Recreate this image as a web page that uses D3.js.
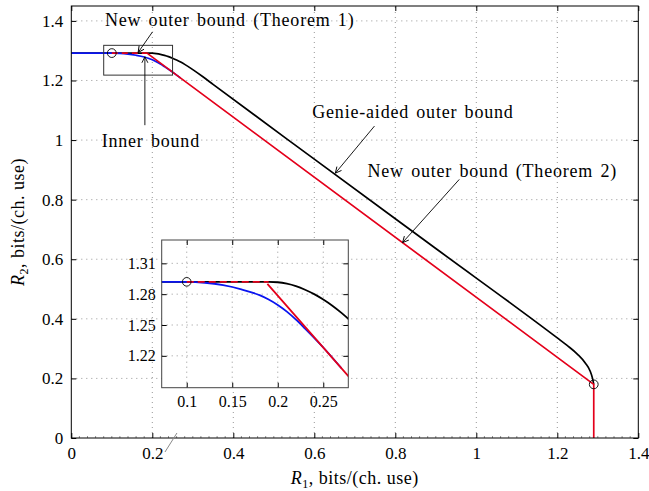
<!DOCTYPE html>
<html>
<head>
<meta charset="utf-8">
<script src="https://cdn.jsdelivr.net/npm/d3@7"></script>
<style>
  body { margin: 0; background: #fff; }
  svg text { font-family: "Liberation Serif", "DejaVu Serif", serif; fill: #000; }
</style>
</head>
<body>
<div id="chart"></div>
<script>
// ---- data ----
const xTicks = [0, 0.2, 0.4, 0.6, 0.8, 1, 1.2, 1.4];
const yTicks = [0, 0.2, 0.4, 0.6, 0.8, 1, 1.2, 1.4];
const insetXTicks = [0.1, 0.15, 0.2, 0.25];
const insetYTicks = [1.22, 1.25, 1.28, 1.31];

// genie-aided outer bound (black)
const genieBound = [
  [0, 1.292], [0.19, 1.292], [0.20, 1.2916], [0.21, 1.2902], [0.22, 1.2878],
  [0.23, 1.2843], [0.24, 1.2800], [0.25, 1.2748], [0.26, 1.2688], [0.27, 1.2618],
  [0.28, 1.2540], [0.30, 1.2365], [0.325, 1.2125], [0.35, 1.187],
  [0.6, 0.936], [0.9, 0.636], [1.2, 0.336], [1.225, 0.31], [1.25, 0.281],
  [1.269, 0.252], [1.281, 0.225], [1.287, 0.2], [1.29, 0.18]
];
// inner bound (blue) - merges with the Theorem 2 line near R1 = 0.25
const innerBound = [
  [0, 1.292], [0.1, 1.292], [0.12, 1.2911], [0.14, 1.2887], [0.16, 1.2847],
  [0.18, 1.2790], [0.19, 1.2748], [0.20, 1.2695], [0.21, 1.2630], [0.22, 1.2552],
  [0.23, 1.2465], [0.24, 1.2375], [0.25, 1.2281], [0.27, 1.2079]
];
// new outer bound, Theorem 2 (red solid) and Theorem 1 (red dashed)
const thm2Bound = [[0.1886, 1.290], [1.29, 0.18], [1.29, 0]];
const thm1Bound = [[0.1, 1.292], [0.19, 1.292]];
// corner points (circles)
const cornerPoints = [[0.1, 1.292], [1.29, 0.18]];
// zoom box drawn in main plot
const zoomBox = { x0: 0.08, x1: 0.25, y0: 1.218, y1: 1.318 };
// stray grey stroke under the axis
const strayLine = [[0.2313, -0.047], [0.2609, 0.0168]];

// annotations: text anchor and arrow (from -> to), data coordinates
const annotations = [
  { text: "New outer bound (Theorem 1)", tx: 0.083, ty: 1.3826, from: [0.2006, 1.3634], to: [0.165, 1.294] },
  { text: "Inner bound", tx: 0.075, ty: 0.9765, from: [0.1817, 1.050], to: [0.1817, 1.2795] },
  { text: "Genie-aided outer bound", tx: 0.595, ty: 1.0738, from: [0.7486, 1.047], to: [0.652, 0.889] },
  { text: "New outer bound (Theorem 2)", tx: 0.7313, ty: 0.8758, from: [0.958, 0.868], to: [0.818, 0.656] }
];

// ---- layout ----
const width = 649, height = 491;
const red = "#e4001b", blue = "#0a14f0";

const svg = d3.select("#chart").append("svg")
  .attr("width", width).attr("height", height);

const x = d3.scaleLinear([0, 1.4], [71.3, 638.3]);
const y = d3.scaleLinear([0, 1.45], [438, 6]);
const ix = d3.scaleLinear([0.0725, 0.2775], [161.7, 348.3]);
const iy = d3.scaleLinear([1.189, 1.3327], [387.7, 240]);

const defs = svg.append("defs");
defs.append("clipPath").attr("id", "clipMain").append("rect")
  .attr("x", x(0)).attr("y", y(1.45)).attr("width", x(1.4) - x(0)).attr("height", y(0) - y(1.45));
defs.append("clipPath").attr("id", "clipInset").append("rect")
  .attr("x", ix(0.0725)).attr("y", iy(1.3327)).attr("width", ix(0.2775) - ix(0.0725)).attr("height", iy(1.189) - iy(1.3327));
defs.append("marker").attr("id", "arrow")
  .attr("markerUnits", "userSpaceOnUse")
  .attr("viewBox", "-8 -5 10 10").attr("refX", 0).attr("refY", 0)
  .attr("markerWidth", 10).attr("markerHeight", 10).attr("orient", "auto")
  .append("path").attr("d", "M-6,-3L0,0L-6,3").attr("fill", "none")
  .attr("stroke", "#000").attr("stroke-width", 0.9);

// grid, axes and frame for a panel
function drawAxes(g, sx, sy, xt, yt, gridX, gridY, fontSize, padX, padY) {
  const [x0, x1] = sx.range(), [y0, y1] = sy.range();
  g.append("g").selectAll("line").data(gridX).join("line")
    .attr("x1", d => sx(d)).attr("x2", d => sx(d)).attr("y1", y0).attr("y2", y1)
    .attr("stroke", "#8a8a8a").attr("stroke-width", 0.9).attr("stroke-dasharray", "1,4");
  g.append("g").selectAll("line").data(gridY).join("line")
    .attr("y1", d => sy(d)).attr("y2", d => sy(d)).attr("x1", x0).attr("x2", x1)
    .attr("stroke", "#8a8a8a").attr("stroke-width", 0.9).attr("stroke-dasharray", "1,4");

  const fmt = d => String(d);
  const bottom = g.append("g").attr("transform", `translate(0,${y0})`)
    .call(d3.axisBottom(sx).tickValues(xt).tickSize(-5).tickPadding(padX).tickFormat(fmt));
  const top = g.append("g").attr("transform", `translate(0,${y1})`)
    .call(d3.axisTop(sx).tickValues(xt).tickSize(-5).tickFormat(""));
  const left = g.append("g").attr("transform", `translate(${x0},0)`)
    .call(d3.axisLeft(sy).tickValues(yt).tickSize(-5).tickPadding(padY).tickFormat(fmt));
  const right = g.append("g").attr("transform", `translate(${x1},0)`)
    .call(d3.axisRight(sy).tickValues(yt).tickSize(-5).tickFormat(""));
  [bottom, top, left, right].forEach(a => {
    a.attr("font-family", null).attr("font-size", fontSize);
    a.select(".domain").remove();
    a.selectAll("line").attr("stroke", "#000");
  });
}

function drawCurves(g, sx, sy, lw, dash) {
  const line = d3.line().x(d => sx(d[0])).y(d => sy(d[1]));
  const smooth = d3.line().x(d => sx(d[0])).y(d => sy(d[1])).curve(d3.curveMonotoneX);
  g.append("path").datum(genieBound).attr("d", smooth)
    .attr("fill", "none").attr("stroke", "#000").attr("stroke-width", lw);
  g.append("path").datum(innerBound).attr("d", smooth)
    .attr("fill", "none").attr("stroke", blue).attr("stroke-width", lw);
  g.append("path").datum(thm1Bound).attr("d", line)
    .attr("fill", "none").attr("stroke", red).attr("stroke-width", lw).attr("stroke-dasharray", dash);
  g.append("path").datum(thm2Bound).attr("d", line)
    .attr("fill", "none").attr("stroke", red).attr("stroke-width", lw);
}

// ---- main panel ----
const mainG = svg.append("g");
drawAxes(mainG, x, y, xTicks, yTicks, [0.2, 0.4, 0.6, 0.8, 1, 1.2], [0.2, 0.4, 0.6, 0.8, 1, 1.2, 1.4], 17, 9, 8);

// minor ticks along the bottom
const minor = d3.range(0.02, 1.4, 0.02).filter(v => Math.abs(v / 0.2 - Math.round(v / 0.2)) > 1e-6);
mainG.append("g").selectAll("line").data(minor).join("line")
  .attr("x1", d => x(d)).attr("x2", d => x(d)).attr("y1", y(0)).attr("y2", y(0) - 2)
  .attr("stroke", "#777").attr("stroke-width", 0.8);

const plotG = mainG.append("g").attr("clip-path", "url(#clipMain)");
drawCurves(plotG, x, y, 1.7, "6,4");

plotG.append("g").selectAll("circle").data(cornerPoints).join("circle")
  .attr("cx", d => x(d[0])).attr("cy", d => y(d[1])).attr("r", 4.4)
  .attr("fill", "none").attr("stroke", "#000").attr("stroke-width", 0.9);

mainG.append("rect")
  .attr("x", x(zoomBox.x0)).attr("y", y(zoomBox.y1))
  .attr("width", x(zoomBox.x1) - x(zoomBox.x0)).attr("height", y(zoomBox.y0) - y(zoomBox.y1))
  .attr("fill", "none").attr("stroke", "#333").attr("stroke-width", 1);

mainG.append("rect")
  .attr("x", x(0)).attr("y", y(1.45)).attr("width", x(1.4) - x(0)).attr("height", y(0) - y(1.45))
  .attr("fill", "none").attr("stroke", "#000").attr("stroke-width", 1);

svg.append("path").datum(strayLine)
  .attr("d", d3.line().x(d => x(d[0])).y(d => y(d[1])))
  .attr("stroke", "#8a8a8a").attr("stroke-width", 1).attr("fill", "none");

// annotations
const annG = svg.append("g");
annotations.forEach(a => {
  annG.append("line")
    .attr("x1", x(a.from[0])).attr("y1", y(a.from[1]))
    .attr("x2", x(a.to[0])).attr("y2", y(a.to[1]))
    .attr("stroke", "#000").attr("stroke-width", 0.9).attr("marker-end", "url(#arrow)");
  annG.append("text").attr("x", x(a.tx)).attr("y", y(a.ty))
    .attr("font-size", 18).attr("letter-spacing", 0.8).attr("word-spacing", 2)
    .text(a.text);
});

// axis titles
const xt = svg.append("text").attr("x", (x(0) + x(1.4)) / 2).attr("y", 484)
  .attr("text-anchor", "middle").attr("font-size", 18).attr("letter-spacing", 0.5);
xt.append("tspan").attr("font-style", "italic").text("R");
xt.append("tspan").attr("font-size", 12).attr("dy", 4).text("1");
xt.append("tspan").attr("dy", -4).text(", bits/(ch. use)");

const yt = svg.append("text")
  .attr("transform", `translate(24,${(y(0) + y(1.45)) / 2}) rotate(-90)`)
  .attr("text-anchor", "middle").attr("font-size", 18).attr("letter-spacing", 0.5);
yt.append("tspan").attr("font-style", "italic").text("R");
yt.append("tspan").attr("font-size", 12).attr("dy", 4).text("2");
yt.append("tspan").attr("dy", -4).text(", bits/(ch. use)");

// ---- inset ----
const insetG = svg.append("g");
insetG.append("rect")
  .attr("x", ix(0.0725)).attr("y", iy(1.3327))
  .attr("width", ix(0.2775) - ix(0.0725)).attr("height", iy(1.189) - iy(1.3327))
  .attr("fill", "#fff");
drawAxes(insetG, ix, iy, insetXTicks, insetYTicks, insetXTicks, insetYTicks, 16, 8, 6);

const insetPlot = insetG.append("g").attr("clip-path", "url(#clipInset)");
drawCurves(insetPlot, ix, iy, 1.8, "7,4");
insetPlot.append("circle")
  .attr("cx", ix(cornerPoints[0][0])).attr("cy", iy(cornerPoints[0][1])).attr("r", 4.3)
  .attr("fill", "none").attr("stroke", "#000").attr("stroke-width", 0.9);

insetG.append("rect")
  .attr("x", ix(0.0725)).attr("y", iy(1.3327))
  .attr("width", ix(0.2775) - ix(0.0725)).attr("height", iy(1.189) - iy(1.3327))
  .attr("fill", "none").attr("stroke", "#444").attr("stroke-width", 1);
</script>
</body>
</html>
